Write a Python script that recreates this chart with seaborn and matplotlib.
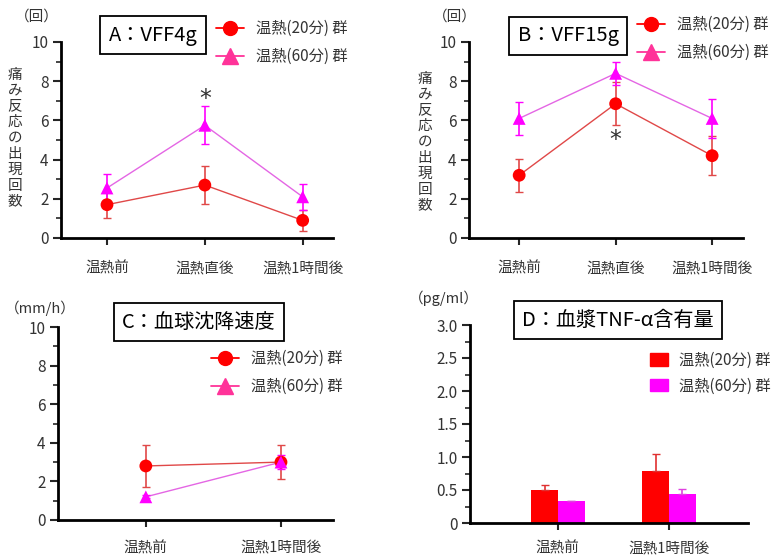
import matplotlib

matplotlib.use("Agg")
import matplotlib.pyplot as plt
import pandas as pd
import seaborn as sns
from matplotlib.lines import Line2D
from matplotlib.patches import Patch
from matplotlib.ticker import MultipleLocator

# ---- data ----
GROUPS = ["温熱(20分) 群", "温熱(60分) 群"]
TIMES_3 = ["温熱前", "温熱直後", "温熱1時間後"]
TIMES_2 = ["温熱前", "温熱1時間後"]

a_20 = [1.7, 2.7, 0.9]
a_20_err = [0.7, 0.95, 0.55]
a_60 = [2.55, 5.75, 2.1]
a_60_err = [0.7, 0.97, 0.65]

b_20 = [3.2, 6.85, 4.2]
b_20_err = [0.85, 1.1, 1.0]
b_60 = [6.1, 8.4, 6.1]
b_60_err = [0.85, 0.6, 1.0]

c_20 = [2.8, 3.0]
c_20_err = [1.1, 0.9]
c_60 = [1.2, 3.0]
c_60_err = [0.08, 0.35]

d_20 = [0.5, 0.79]
d_20_err = [0.07, 0.25]
d_60 = [0.34, 0.44]
d_60_err = [0.0, 0.08]

RED = "#ff0000"
RED_LINE = "#e04848"
MAG = "#ff00ff"
MAG_LINE = "#e466e4"
PINK = "#ff3399"
TXT = "#333333"
FONT = ["Noto Sans CJK JP", "DejaVu Sans"]

sns.set_theme(style="white")
plt.rcParams["font.family"] = FONT
plt.rcParams["axes.unicode_minus"] = False

W, H = 778, 559
fig = plt.figure(figsize=(W / 100, H / 100), dpi=100)


def px_axes(left, right, top, bottom):
    return fig.add_axes([left / W, (H - bottom) / H, (right - left) / W, (bottom - top) / H])


def style_axes(ax, ymax, major, minor, xpad=12):
    for s in ["top", "right"]:
        ax.spines[s].set_visible(False)
    for s in ["left", "bottom"]:
        ax.spines[s].set_color("black")
        ax.spines[s].set_linewidth(2)
    ax.set_ylim(0, ymax)
    ax.yaxis.set_major_locator(MultipleLocator(major))
    ax.yaxis.set_minor_locator(MultipleLocator(minor))
    ax.tick_params(axis="y", which="major", direction="out", length=6, width=1.5,
                   left=True, labelsize=11, labelcolor=TXT, pad=3)
    ax.tick_params(axis="y", which="minor", direction="out", length=3.5, width=1.2, left=True)
    ax.tick_params(axis="x", which="major", direction="out", length=5, width=1.5,
                   bottom=True, labelsize=10.5, labelcolor=TXT, pad=xpad)
    ax.set_xlabel("")
    ax.set_ylabel("")
    ax.grid(False)


def line_panel(ax, times, v20, e20, v60, e60):
    df = pd.DataFrame({
        "time": times * 2,
        "value": v20 + v60,
        "group": [GROUPS[0]] * len(times) + [GROUPS[1]] * len(times),
    })
    sns.lineplot(data=df, x="time", y="value", hue="group", palette=[RED_LINE, MAG_LINE],
                 linewidth=1.0, ax=ax, legend=False, sort=False)
    pos = list(range(len(times)))
    ax.errorbar(pos, v20, yerr=e20, fmt="none", ecolor=RED_LINE, elinewidth=1.2, capsize=3, zorder=3)
    ax.errorbar(pos, v60, yerr=e60, fmt="none", ecolor=MAG, elinewidth=1.2, capsize=3, zorder=3)
    sns.scatterplot(data=df, x="time", y="value", hue="group", style="group",
                    markers=["o", "^"], palette=[RED, MAG], s=85, edgecolor="none",
                    ax=ax, legend=False, zorder=4)
    ax.set_xticks(pos)
    ax.set_xticklabels(times)


def title_box(x, y, text):
    fig.text(x / W, 1 - y / H, text, ha="center", va="center", fontsize=14.5, color="black",
             bbox=dict(boxstyle="square,pad=0.42", facecolor="white", edgecolor="black", linewidth=1.3))


def unit(x, y, text):
    fig.text(x / W, 1 - y / H, text, ha="center", va="center", fontsize=10.5, color=TXT)


def vlabel(x, y, text):
    fig.text(x / W, 1 - y / H, "\n".join(text), ha="center", va="center", fontsize=10.5,
             color=TXT, linespacing=1.17)


def star(ax, y):
    ax.text(1, y, "*", ha="center", va="center", fontsize=17, color=TXT,
            family=["DejaVu Sans"])


line_handles = [
    Line2D([], [], color=RED, marker="o", markersize=10, linewidth=1.3),
    Line2D([], [], color=PINK, marker="^", markersize=11, linewidth=1.3),
]
bar_handles = [Patch(color=RED), Patch(color=MAG)]


def legend(ax, handles, x, y, **kw):
    leg = ax.legend(handles, GROUPS, loc="upper left", bbox_to_anchor=(x / W, 1 - y / H),
                    bbox_transform=fig.transFigure, frameon=False, fontsize=11,
                    labelcolor=TXT, borderaxespad=0, borderpad=0, **kw)
    return leg


# ---- A ----
axA = px_axes(61, 333, 42, 238)
line_panel(axA, TIMES_3, a_20, a_20_err, a_60, a_60_err)
style_axes(axA, 10, 2, 1)
axA.set_xlim(-0.47, 2.31)
star(axA, 7.1)
legend(axA, line_handles, 216, 20, handlelength=1.8, handletextpad=0.8, labelspacing=0.72)
title_box(153, 35, "A：VFF4g")
unit(37, 17, "（回）")
vlabel(15, 138, "痛み反応の出現回数")

# ---- B ----
axB = px_axes(469, 743, 42, 238)
line_panel(axB, TIMES_3, b_20, b_20_err, b_60, b_60_err)
style_axes(axB, 10, 2, 1)
axB.set_xlim(-0.52, 2.32)
star(axB, 5.0)
legend(axB, line_handles, 637, 16, handlelength=1.8, handletextpad=0.8, labelspacing=0.72)
title_box(568, 36, "B：VFF15g")
unit(455, 17, "（回）")
vlabel(425, 142, "痛み反応の出現回数")

# ---- C ----
axC = px_axes(58, 333, 327, 520)
line_panel(axC, TIMES_2, c_20, c_20_err, c_60, c_60_err)
style_axes(axC, 10, 2, 1, xpad=10)
axC.set_xlim(-0.65, 1.385)
legend(axC, line_handles, 211, 350, handlelength=1.8, handletextpad=0.8, labelspacing=0.72)
title_box(199, 322, "C：血球沈降速度")
unit(40, 308, "（mm/h）")

# ---- D ----
axD = px_axes(470, 748, 325, 523)
df_d = pd.DataFrame({
    "time": TIMES_2 * 2,
    "value": d_20 + d_60,
    "group": [GROUPS[0]] * 2 + [GROUPS[1]] * 2,
})
sns.barplot(data=df_d, x="time", y="value", hue="group", palette=[RED, MAG], width=0.48,
            errorbar=None, saturation=1, linewidth=0, ax=axD, legend=False)
axD.errorbar([-0.12, 0.88], d_20, yerr=[[0, 0], d_20_err], fmt="none", ecolor="#e03030",
             elinewidth=1.2, capsize=3, zorder=3)
axD.errorbar([0.12, 1.12], d_60, yerr=[[0, 0], d_60_err], fmt="none", ecolor="#e040e0",
             elinewidth=1.2, capsize=3, zorder=3)
style_axes(axD, 3, 0.5, 0.25, xpad=8)
axD.yaxis.set_major_formatter(lambda v, _: "0" if v == 0 else f"{v:.1f}")
axD.set_xlim(-0.79, 1.71)
legend(axD, bar_handles, 650, 352, handlelength=1.2, handleheight=0.9, handletextpad=0.7,
       labelspacing=0.55)
title_box(618, 320, "D：血漿TNF-α含有量")
unit(444, 298, "（pg/ml）")

fig.savefig("out.png", dpi=100)
